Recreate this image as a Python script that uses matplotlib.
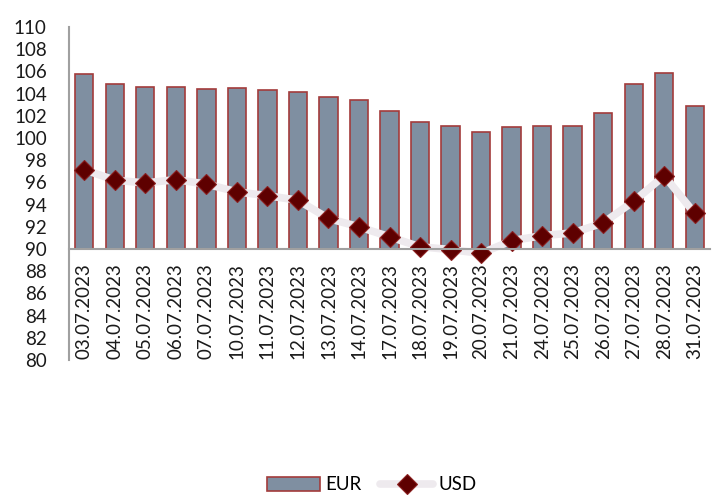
import numpy as np
import matplotlib.pyplot as plt

dates = ['03.07.2023', '04.07.2023', '05.07.2023', '06.07.2023', '07.07.2023',
         '10.07.2023', '11.07.2023', '12.07.2023', '13.07.2023', '14.07.2023',
         '17.07.2023', '18.07.2023', '19.07.2023', '20.07.2023', '21.07.2023',
         '24.07.2023', '25.07.2023', '26.07.2023', '27.07.2023', '28.07.2023',
         '31.07.2023']
eur = [105.75, 104.9, 104.6, 104.6, 104.4, 104.5, 104.35, 104.1, 103.65, 103.4,
       102.4, 101.45, 101.1, 100.5, 100.95, 101.1, 101.1, 102.25, 104.9, 105.9,
       102.9]
usd = [97.15, 96.2, 95.95, 96.25, 95.85, 95.15, 94.8, 94.4, 92.75, 92.0,
       91.1, 90.2, 89.95, 89.6, 90.75, 91.2, 91.45, 92.35, 94.3, 96.6,
       93.2]
yticks = list(range(80, 111, 2))
base = 90

plt.rcParams['font.family'] = ['Lato', 'DejaVu Sans']

fig = plt.figure(figsize=(7.27, 4.96), dpi=100)
ax = fig.add_axes([69 / 727, 1 - 360 / 496, 641 / 727, 333 / 496])

x = np.arange(len(dates))
bars = ax.bar(x, np.array(eur) - base, bottom=base, width=0.6, color='#7f8fa1',
              edgecolor='#a33b3b', linewidth=1.2, label='EUR', zorder=2)
line, = ax.plot(x, usd, color='#eeeaee', linewidth=5.5, marker='D', markersize=10,
                markerfacecolor='#5e0000', markeredgecolor='#8b1f1f',
                markeredgewidth=0.8, solid_joinstyle='round',
                solid_capstyle='round', label='USD', zorder=3)

ax.spines['top'].set_visible(False)
ax.spines['right'].set_visible(False)
ax.spines['bottom'].set_position(('data', base))
ax.spines['bottom'].set_color('#a0a0a0')
ax.spines['bottom'].set_linewidth(1.5)
ax.spines['left'].set_color('#a0a0a0')
ax.spines['left'].set_linewidth(1.5)
ax.spines['bottom'].set_zorder(4)

ax.set_xlim(-0.5, len(dates) - 0.5)
ax.set_ylim(80, 110)
ax.set_yticks(yticks)
ax.set_xticks(x)
ax.set_xticklabels(dates, rotation=90, va='top', ha='center')
ax.tick_params(axis='both', length=0, labelsize=13.5, colors='#1a1a1a')
ax.tick_params(axis='y', pad=16)
ax.tick_params(axis='x', pad=10)

fig.legend([bars, line], ['EUR', 'USD'], loc='center',
           bbox_to_anchor=(372 / 727, 1 - 485 / 496), ncol=2,
           frameon=False, fontsize=13.5, handlelength=2.8, columnspacing=1.0,
           handletextpad=0.3, borderpad=0.2)

fig.savefig('out.png', dpi=100)
